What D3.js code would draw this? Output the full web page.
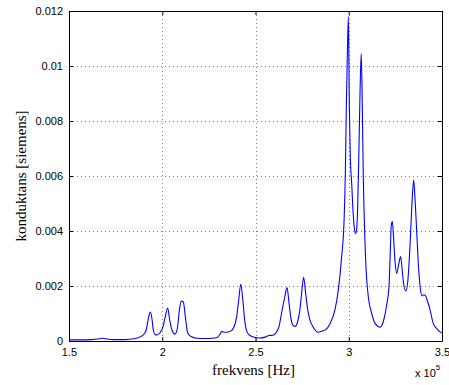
<!DOCTYPE html>
<html>
<head>
<meta charset="utf-8">
<script src="https://cdn.jsdelivr.net/npm/d3@7"></script>
<style>
  body { margin: 0; background: #fff; }
  .tick text { font-family: "Liberation Sans", Arial, sans-serif; font-size: 11px; fill: #000; }
  .tick line { stroke: #000; }
  .domain { stroke: #000; }
  .grid line { stroke: #7f7f7f; stroke-dasharray: 1,3; stroke-width: 1; }
  .lbl { font-family: "Liberation Serif", "Times New Roman", serif; font-size: 15px; fill: #000; }
</style>
</head>
<body>
<div id="chart"></div>
<script>
// frequency in Hz, conductance in siemens
var freqHz = [
  150000, 156000, 162000, 165500, 168000, 170500, 174000, 180000, 185000, 188100,
  190200, 191400, 192500, 193600, 194500, 195200, 196100, 197200, 198800, 200400,
  201600, 202900, 204000, 205200, 206800, 208100, 209200, 210200, 211300, 212400,
  213600, 215400, 218600, 222900, 226700, 229400, 231000, 231900, 233100, 235300,
  236900, 238500, 239900, 241000, 242100, 243200, 244200, 245400, 247000, 249700,
  252400, 255100, 257200, 259400, 261000, 262600, 264200, 265700, 266900, 268000,
  269000, 270100, 271200, 272600, 274000, 274900, 275800, 276900, 278000, 279200,
  280800, 283700, 285700, 287800, 290000, 292600, 294400, 296200, 297500, 298200,
  298700, 299300, 299800, 300300, 300800, 301600, 302400, 303200, 303700, 304300,
  304800, 305500, 306100, 306700, 307300, 307800, 308600, 309300, 310500, 312300,
  314100, 316800, 318900, 320300, 321600, 322300, 322800, 323400, 323900, 324800,
  325700, 326800, 327800, 328900, 329600, 330700, 331700, 332800, 333900, 334800,
  335600, 336500, 337400, 338400, 339300, 340200, 341100, 342000, 343600, 345300,
  347200, 348500, 350000
];
var conductance = [
  0.00004, 0.00004, 0.00005, 0.00007, 0.0001, 0.00007, 0.00005, 0.00005, 0.00008, 0.00015,
  0.00025, 0.0004, 0.0008, 0.00105, 0.0008, 0.0004, 0.00024, 0.00022, 0.0003, 0.00052,
  0.00088, 0.0012, 0.00076, 0.0004, 0.00025, 0.00046, 0.00113, 0.00145, 0.00142, 0.00088,
  0.0003, 0.00016, 0.0001, 0.00009, 0.0001, 0.00013, 0.00025, 0.00035, 0.00032, 0.00033,
  0.00037, 0.00052, 0.00088, 0.0015, 0.00206, 0.0015, 0.00076, 0.00034, 0.0002, 0.00013,
  0.00011, 0.00014, 0.0002, 0.00021, 0.0003, 0.00052, 0.0011, 0.0016, 0.00194, 0.00137,
  0.00082, 0.00057, 0.00053, 0.0007, 0.00125, 0.00185, 0.00232, 0.00173, 0.00113, 0.00076,
  0.00052, 0.00032, 0.00036, 0.00042, 0.00064, 0.00113, 0.00185, 0.00307, 0.0044, 0.0062,
  0.0085, 0.0106, 0.0118, 0.0086, 0.0068, 0.0057, 0.0046, 0.004, 0.0039, 0.0041,
  0.0049, 0.0071, 0.0092, 0.01045, 0.0084, 0.006, 0.0038, 0.0026, 0.0016, 0.001,
  0.00064, 0.0005, 0.0008, 0.0013, 0.002, 0.0033, 0.0042, 0.00434, 0.0039, 0.0029,
  0.00246, 0.0028, 0.00307, 0.0024, 0.002, 0.00182, 0.0022, 0.0034, 0.005, 0.00585,
  0.0051, 0.0039, 0.0027, 0.0019, 0.00164, 0.00168, 0.00165, 0.0015, 0.00113, 0.00064,
  0.00045, 0.00035, 0.0003
];
var xTicks = [150000, 200000, 250000, 300000, 350000];
var xTickLabels = ["1.5", "2", "2.5", "3", "3.5"];
var yTicks = [0, 0.002, 0.004, 0.006, 0.008, 0.01, 0.012];
var yTickLabels = ["0", "0.002", "0.004", "0.006", "0.008", "0.01", "0.012"];

var W = 449, H = 385;
var margin = {top: 11, right: 7, bottom: 44, left: 69};
var width = W - margin.left - margin.right,
    height = H - margin.top - margin.bottom;

var svg = d3.select("#chart").append("svg")
    .attr("width", W)
    .attr("height", H);

var g = svg.append("g")
    .attr("transform", "translate(" + margin.left + "," + margin.top + ")");

var x = d3.scaleLinear().domain([150000, 350000]).range([0, width]);
var y = d3.scaleLinear().domain([0, 0.012]).range([height, 0]);

// dotted grid, inner ticks only
g.append("g").attr("class", "grid")
  .selectAll("line").data(xTicks.slice(1, -1)).enter().append("line")
    .attr("x1", function(d){ return Math.round(x(d)) + 0.5; })
    .attr("x2", function(d){ return Math.round(x(d)) + 0.5; })
    .attr("y1", 0).attr("y2", height);
g.append("g").attr("class", "grid")
  .selectAll("line").data(yTicks.slice(1, -1)).enter().append("line")
    .attr("y1", function(d){ return Math.round(y(d)) + 0.5; })
    .attr("y2", function(d){ return Math.round(y(d)) + 0.5; })
    .attr("x1", 0).attr("x2", width);

var line = d3.line()
    .x(function(d){ return x(d[0]); })
    .y(function(d){ return y(d[1]); })
    .curve(d3.curveMonotoneX);

g.append("path")
    .datum(d3.zip(freqHz, conductance))
    .attr("d", line)
    .attr("fill", "none")
    .attr("stroke", "#0000ff")
    .attr("stroke-width", 1.1);

var xFmt = function(d, i){ return xTickLabels[i]; };
var yFmt = function(d, i){ return yTickLabels[i]; };

g.append("g")
    .attr("transform", "translate(0," + height + ")")
    .call(d3.axisBottom(x).tickValues(xTicks).tickFormat(xFmt).tickSizeInner(-4).tickSizeOuter(0).tickPadding(7));
g.append("g")
    .call(d3.axisTop(x).tickValues(xTicks).tickFormat("").tickSizeInner(-4).tickSizeOuter(0));
g.append("g")
    .call(d3.axisLeft(y).tickValues(yTicks).tickFormat(yFmt).tickSizeInner(-4).tickSizeOuter(0).tickPadding(6));
g.append("g")
    .attr("transform", "translate(" + width + ",0)")
    .call(d3.axisRight(y).tickValues(yTicks).tickFormat("").tickSizeInner(-4).tickSizeOuter(0));

// axis labels
svg.append("text").attr("class", "lbl")
    .attr("x", margin.left + width / 2 - 2)
    .attr("y", 375)
    .attr("text-anchor", "middle")
    .text("frekvens [Hz]");

svg.append("text").attr("class", "lbl")
    .attr("transform", "translate(26," + (margin.top + height / 2) + ") rotate(-90)")
    .attr("text-anchor", "middle")
    .text("konduktans [siemens]");

// exponent label
var ex = svg.append("text")
    .attr("x", 415)
    .attr("y", 377)
    .style("font-family", "Liberation Sans, Arial, sans-serif")
    .style("font-size", "11px")
    .text("x 10");
ex.append("tspan")
    .attr("dy", -7)
    .style("font-size", "8px")
    .text("5");
</script>
</body>
</html>
